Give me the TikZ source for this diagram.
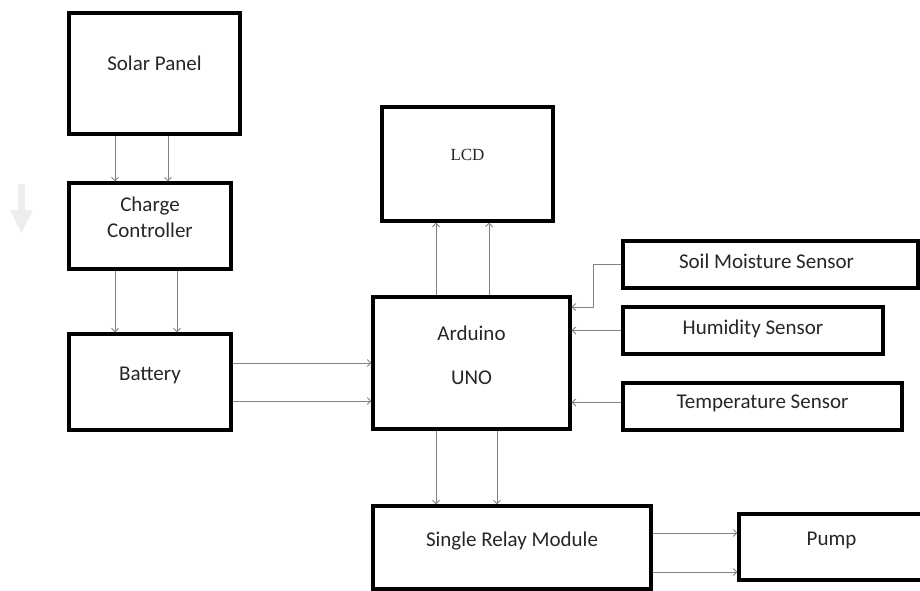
\documentclass[tikz,border=0pt]{standalone}
\usepackage{fontspec}
\setmainfont{Carlito}
\newfontfamily\lcdfont{Liberation Serif}
\usetikzlibrary{arrows.meta}

\begin{document}
\begin{tikzpicture}[
  x=1pt, y=-1pt,
  font=\fontsize{21}{26}\selectfont,
  >={Straight Barb[length=3.5pt, width=7pt]},
  box/.style={draw, line width=3.2pt, inner sep=0pt},
  txt/.style={align=center, inner sep=0pt, text=black!85},
  arrow/.style={->, draw=black!50, line width=0.9pt}
]
  \useasboundingbox (0,0) rectangle (920,590);

  \fill[black!7] (18,184) rectangle (25,210) (10,210) -- (33,210) -- (21.5,233) -- cycle;

  \node[box, minimum width=171pt, minimum height=121pt, label={[txt, yshift=10pt]center:Solar Panel}] (solar) at (154.5,73.5) {};
  \node[box, minimum width=162pt, minimum height=86pt, label={[txt, yshift=9pt]center:Charge\\Controller}] (charge) at (150,226) {};
  \node[box, minimum width=162pt, minimum height=96pt, label={[txt, yshift=7pt]center:Battery}] (battery) at (150,382) {};
  \node[box, minimum width=171pt, minimum height=114pt, label={[txt, yshift=9pt, font=\lcdfont\fontsize{17}{20}\selectfont]center:LCD}] (lcd) at (467.5,164) {};
  \node[box, minimum width=197pt, minimum height=132pt, label={[txt, yshift=8pt]center:Arduino\\[18pt]UNO}] (uno) at (471.5,363) {};
  \node[box, minimum width=295pt, minimum height=47pt, label={[txt, xshift=-4pt, yshift=3pt]center:Soil Moisture Sensor}] (soil) at (770.5,264.5) {};
  \node[box, minimum width=260pt, minimum height=47pt, label={[txt, yshift=2pt]center:Humidity Sensor}] (humid) at (753,330.5) {};
  \node[box, minimum width=279pt, minimum height=47pt, label={[txt, yshift=3pt]center:Temperature Sensor}] (temp) at (762.5,406.5) {};
  \node[box, minimum width=278pt, minimum height=83pt, label={[txt, yshift=6pt]center:Single Relay Module}] (relay) at (512,547.5) {};
  \node[box, minimum width=185pt, minimum height=66pt, label={[txt, yshift=7pt]center:Pump}] (pump) at (831.5,547) {};

  \draw[arrow] ([xshift=-39.5pt]solar.south) -- ([xshift=-39.5pt]solar.south |- charge.north);
  \draw[arrow] ([xshift=13.5pt]solar.south) -- ([xshift=13.5pt]solar.south |- charge.north);
  \draw[arrow] ([xshift=-35pt]charge.south) -- ([xshift=-35pt]charge.south |- battery.north);
  \draw[arrow] ([xshift=27pt]charge.south) -- ([xshift=27pt]charge.south |- battery.north);
  \draw[arrow] ([yshift=19pt]battery.east) -- ([yshift=19pt]battery.east -| uno.west);
  \draw[arrow] ([yshift=-19pt]battery.east) -- ([yshift=-19pt]battery.east -| uno.west);
  \draw[arrow] ([xshift=-35.5pt]uno.north) -- ([xshift=-35.5pt]uno.north |- lcd.south);
  \draw[arrow] ([xshift=17.5pt]uno.north) -- ([xshift=17.5pt]uno.north |- lcd.south);
  \draw[arrow] (soil.west) -- ++(-28,0) |- ([yshift=56pt]uno.east);
  \draw[arrow] (humid.west) -- (humid.west -| uno.east);
  \draw[arrow] ([yshift=4pt]temp.west) -- ([yshift=4pt]temp.west -| uno.east);
  \draw[arrow] ([xshift=-35.5pt]uno.south) -- ([xshift=-35.5pt]uno.south |- relay.north);
  \draw[arrow] ([xshift=25.5pt]uno.south) -- ([xshift=25.5pt]uno.south |- relay.north);
  \draw[arrow] ([yshift=14.5pt]relay.east) -- ([yshift=14.5pt]relay.east -| pump.west);
  \draw[arrow] ([yshift=-24.5pt]relay.east) -- ([yshift=-24.5pt]relay.east -| pump.west);
\end{tikzpicture}
\end{document}
